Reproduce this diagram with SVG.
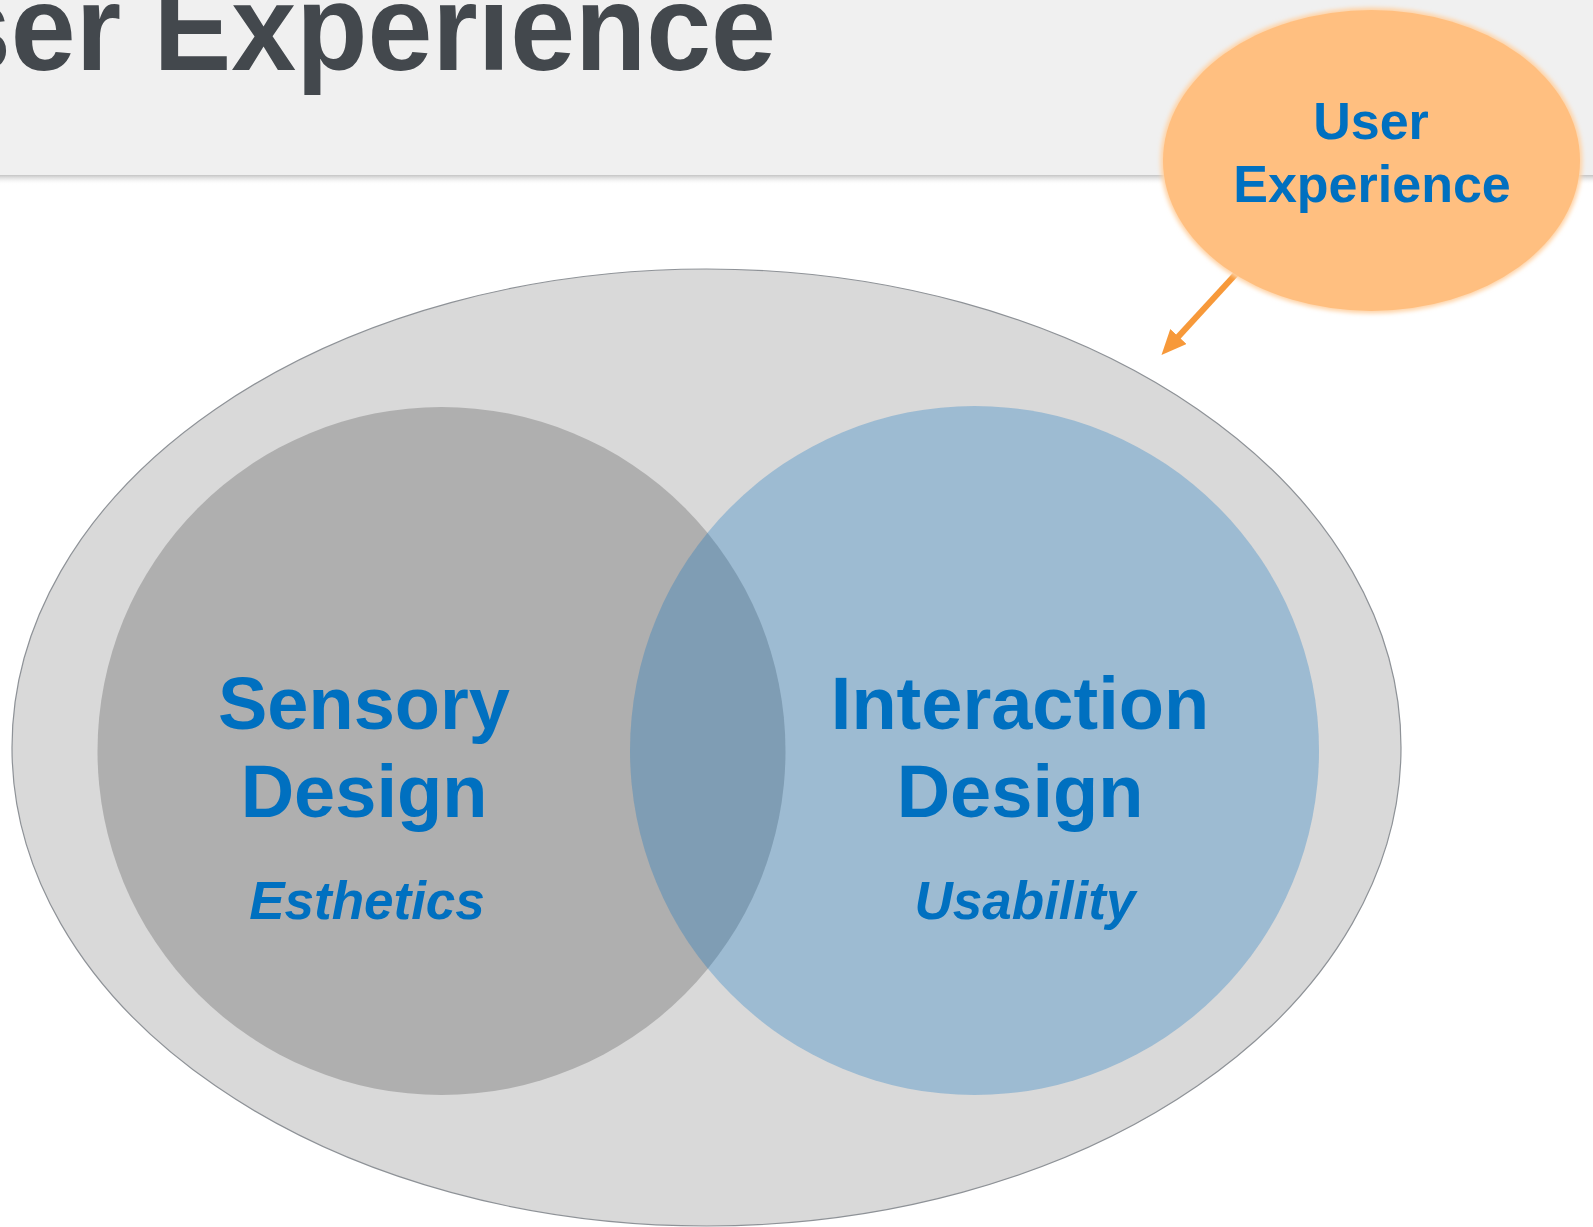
<svg xmlns="http://www.w3.org/2000/svg" width="1593" height="1227" viewBox="0 0 1593 1227">
  <style>
    .lbl { font-family: "Liberation Sans", Arial, sans-serif; font-weight: bold; fill: #0070C0; text-anchor: middle; }
    .big { font-size: 74px; }
    .sub { font-size: 53px; font-style: italic; }
    .ux { font-size: 52px; }
    .title { font-family: "Liberation Sans", Arial, sans-serif; font-weight: bold; font-size: 122px; fill: #43484D; }
  </style>
  <defs>
    <linearGradient id="hdrShadow" x1="0" y1="0" x2="0" y2="1">
      <stop offset="0" stop-color="#C4C4C4"/>
      <stop offset="1" stop-color="#FFFFFF" stop-opacity="0"/>
    </linearGradient>
    <filter id="glow" x="-10%" y="-10%" width="120%" height="120%">
      <feGaussianBlur stdDeviation="2"/>
    </filter>
    <marker id="arrowHead" markerUnits="userSpaceOnUse" markerWidth="26" markerHeight="24" refX="13" refY="11" orient="auto">
      <path d="M0,0 L25,11 L0,22 Z" fill="#F7993A"/>
    </marker>
  </defs>

  <rect width="1593" height="1227" fill="#FFFFFF"/>

  <g id="header">
    <rect x="0" y="0" width="1593" height="175" fill="#F0F0F0"/>
    <rect x="0" y="175" width="1593" height="10" fill="url(#hdrShadow)"/>
    <text class="title" x="-54" y="70" textLength="830" lengthAdjust="spacingAndGlyphs">ser Experience</text>
  </g>

  <g id="user-experience-scope">
    <ellipse cx="706.5" cy="747.5" rx="694.5" ry="478.5" fill="#D9D9D9" stroke="#8E9297" stroke-width="1.2"/>
  </g>

  <g id="sensory-design">
    <circle cx="441.5" cy="751" r="344" fill="#AFAFAF"/>
  </g>

  <g id="interaction-design">
    <circle cx="974.5" cy="750.5" r="344.5" fill="#0A70C0" fill-opacity="0.29"/>
  </g>

  <g id="sensory-labels">
    <text class="lbl big" x="364" y="729">Sensory</text>
    <text class="lbl big" x="364" y="817">Design</text>
    <text class="lbl sub" x="367" y="919">Esthetics</text>
  </g>

  <g id="interaction-labels">
    <text class="lbl big" x="1020" y="729">Interaction</text>
    <text class="lbl big" x="1020" y="817">Design</text>
    <text class="lbl sub" x="1025" y="919">Usability</text>
  </g>

  <g id="connectors">
    <line x1="1240" y1="269.5" x2="1169.6" y2="346.1" stroke="#F7993A" stroke-width="6" marker-end="url(#arrowHead)"/>
  </g>

  <g id="user-experience">
    <ellipse cx="1371.5" cy="160.5" rx="211" ry="153" fill="#FFD3A6" filter="url(#glow)"/>
    <ellipse cx="1371.5" cy="160.5" rx="208.5" ry="150.5" fill="#FFBF80"/>
    <text class="lbl ux" x="1371" y="139">User</text>
    <text class="lbl ux" x="1372" y="202">Experience</text>
  </g>
</svg>
